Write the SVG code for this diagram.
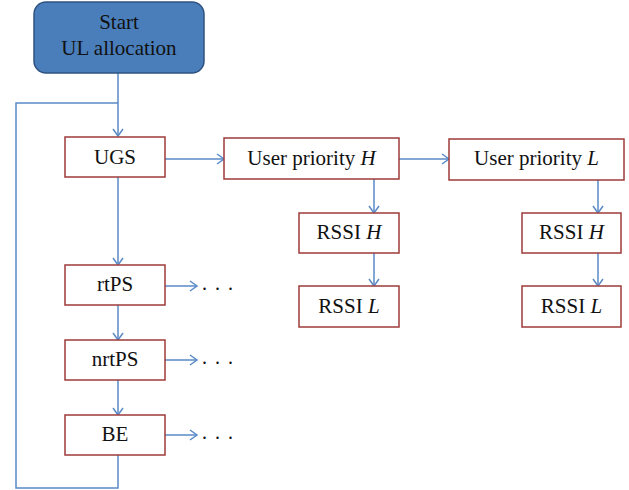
<svg xmlns="http://www.w3.org/2000/svg" width="629" height="490" viewBox="0 0 629 490">
<style>
.box{fill:#fff;stroke:#9c3b3a;stroke-width:1.5}
.start{fill:#4a7ebb;stroke:#2f5381;stroke-width:1.5}
.t{font-family:'Liberation Serif','DejaVu Serif',serif;font-size:21px;fill:#111;text-anchor:middle}
.dots{font-family:'Liberation Serif','DejaVu Serif',serif;font-size:20px;fill:#111;letter-spacing:1.5px}
.c{fill:none;stroke:#5a8ac6;stroke-width:1.5}
</style>
<defs>
<marker id="ah" markerUnits="userSpaceOnUse" markerWidth="12" markerHeight="12" refX="8" refY="6" orient="auto">
<path d="M1,1 L8,6 L1,11" fill="none" stroke="#5a8ac6" stroke-width="1.5"/>
</marker>
</defs>
<g id="connectors">
<path class="c" d="M118,73 V136" marker-end="url(#ah)"/>
<path class="c" d="M118,455 V488 H16 V103 H118"/>
<path class="c" d="M118,177 V265" marker-end="url(#ah)"/>
<path class="c" d="M118,305 V340" marker-end="url(#ah)"/>
<path class="c" d="M118,380 V415" marker-end="url(#ah)"/>
<path class="c" d="M165,159 H224" marker-end="url(#ah)"/>
<path class="c" d="M399,159 H449" marker-end="url(#ah)"/>
<path class="c" d="M374,179 V213" marker-end="url(#ah)"/>
<path class="c" d="M374,253 V286" marker-end="url(#ah)"/>
<path class="c" d="M598,180 V213" marker-end="url(#ah)"/>
<path class="c" d="M598,253 V286" marker-end="url(#ah)"/>
<path class="c" d="M165,286 H197" marker-end="url(#ah)"/>
<path class="c" d="M165,360 H197" marker-end="url(#ah)"/>
<path class="c" d="M165,435 H197" marker-end="url(#ah)"/>
</g>
<g id="start">
<rect class="start" x="34" y="2" width="170" height="71" rx="12"/>
<text class="t" x="119" y="29">Start</text>
<text class="t" x="119" y="55">UL allocation</text>
</g>
<g id="ugs">
<rect class="box" x="65" y="137" width="100" height="40"/>
<text class="t" x="115" y="164">UGS</text>
</g>
<g id="uph">
<rect class="box" x="224" y="138" width="175" height="41"/>
<text class="t" x="311.5" y="165">User priority <tspan font-style="italic">H</tspan></text>
</g>
<g id="upl">
<rect class="box" x="449" y="139" width="175" height="41"/>
<text class="t" x="536.5" y="165">User priority <tspan font-style="italic">L</tspan></text>
</g>
<g id="rssih1">
<rect class="box" x="299" y="213" width="100" height="40"/>
<text class="t" x="349" y="239">RSSI <tspan font-style="italic">H</tspan></text>
</g>
<g id="rssil1">
<rect class="box" x="299" y="286" width="100" height="41"/>
<text class="t" x="349" y="313">RSSI <tspan font-style="italic">L</tspan></text>
</g>
<g id="rssih2">
<rect class="box" x="522" y="213" width="99" height="40"/>
<text class="t" x="571.5" y="239">RSSI <tspan font-style="italic">H</tspan></text>
</g>
<g id="rssil2">
<rect class="box" x="522" y="286" width="99" height="41"/>
<text class="t" x="571.5" y="313">RSSI <tspan font-style="italic">L</tspan></text>
</g>
<g id="rtps">
<rect class="box" x="65" y="265" width="100" height="40"/>
<text class="t" x="115" y="291">rtPS</text>
<text class="dots" x="202" y="290">. . .</text>
</g>
<g id="nrtps">
<rect class="box" x="65" y="340" width="100" height="40"/>
<text class="t" x="115" y="366">nrtPS</text>
<text class="dots" x="202" y="364">. . .</text>
</g>
<g id="be">
<rect class="box" x="65" y="415" width="100" height="40"/>
<text class="t" x="115" y="441">BE</text>
<text class="dots" x="202" y="439">. . .</text>
</g>
</svg>
